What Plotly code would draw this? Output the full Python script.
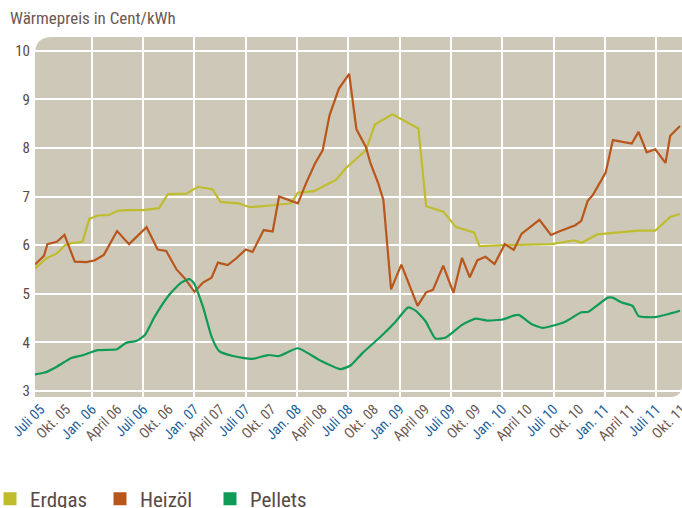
import plotly.graph_objects as go

# x = months since July 2005
erdgas_x = [-0.65, 0.7, 1.9, 2.85, 3.6, 4.9, 5.7, 6.7, 8.0, 9.1, 10.4, 12.0, 13.85, 14.9, 17.05, 18.4,
            20.1, 21.05, 23.1, 24.5, 27.2, 29.3, 30.1, 32.0, 33.2, 34.55, 35.7, 37.3, 38.05, 39.1, 41.15,
            44.2, 45.1, 47.1, 48.6, 50.7, 51.35, 54.3, 59.8, 62.4, 63.3, 65.1, 69.2, 69.9, 71.9, 73.65, 74.8]
erdgas_y = [5.52, 5.73, 5.83, 6.00, 6.04, 6.07, 6.54, 6.61, 6.62, 6.71, 6.72, 6.72, 6.76, 7.05, 7.06, 7.20,
            7.15, 6.89, 6.86, 6.78, 6.82, 6.86, 7.08, 7.11, 7.22, 7.34, 7.58, 7.82, 7.95, 8.48, 8.69,
            8.40, 6.80, 6.69, 6.37, 6.26, 5.98, 6.00, 6.02, 6.10, 6.05, 6.22, 6.28, 6.30, 6.30, 6.58, 6.64]

heizoel_x = [-0.65, 0.4, 0.8, 1.9, 2.8, 4.0, 5.4, 6.35, 7.4, 8.95, 10.35, 11.4, 12.4, 13.7, 14.7, 15.9,
             16.85, 18.0, 19.0, 20.0, 20.75, 21.9, 22.9, 24.0, 24.8, 26.1, 27.15, 27.9, 30.1, 31.05, 32.1,
             33.0, 33.8, 34.9, 36.1, 36.95, 38.05, 38.6, 39.5, 40.1, 41.0, 42.2, 44.1, 45.1, 45.9, 47.1,
             48.3, 49.3, 50.2, 51.1, 52.05, 53.1, 54.3, 55.35, 56.25, 58.35, 59.7, 60.8, 62.55, 63.25,
             64.0, 64.6, 66.1, 66.95, 69.15, 69.95, 70.9, 71.9, 73.1, 73.65, 74.8]
heizoel_y = [5.60, 5.78, 6.02, 6.07, 6.21, 5.66, 5.65, 5.69, 5.80, 6.29, 6.02, 6.19, 6.37, 5.91, 5.88, 5.50,
             5.32, 5.04, 5.23, 5.33, 5.64, 5.59, 5.73, 5.91, 5.86, 6.31, 6.28, 7.00, 6.86, 7.27, 7.68,
             7.95, 8.67, 9.22, 9.52, 8.38, 8.02, 7.68, 7.27, 6.93, 5.09, 5.60, 4.75, 5.03, 5.08, 5.58,
             5.02, 5.74, 5.34, 5.69, 5.76, 5.61, 6.02, 5.90, 6.23, 6.52, 6.21, 6.29, 6.41, 6.50,
             6.91, 7.03, 7.49, 8.16, 8.09, 8.33, 7.91, 7.97, 7.69, 8.25, 8.45]

pellets_x = [-0.65, 0.5, 1.9, 3.6, 4.8, 6.7, 8.95, 10.0, 11.2, 12.2, 13.35, 15.1, 16.45, 17.4, 17.9, 19.0,
             20.0, 20.9, 22.5, 24.8, 26.6, 27.9, 30.1, 32.6, 35.1, 36.3, 37.65, 39.8, 41.55, 43.0, 43.9,
             45.05, 46.2, 47.4, 49.3, 50.9, 52.2, 54.0, 55.55, 56.0, 57.4, 58.75, 61.3, 63.25, 64.1,
             66.35, 66.9, 68.0, 69.25, 69.95, 71.9, 74.8]
pellets_y = [3.34, 3.38, 3.50, 3.68, 3.73, 3.84, 3.86, 3.99, 4.03, 4.15, 4.53, 4.99, 5.23, 5.30, 5.23, 4.73,
             4.12, 3.82, 3.72, 3.66, 3.74, 3.72, 3.88, 3.64, 3.45, 3.53, 3.78, 4.12, 4.43, 4.72, 4.65,
             4.43, 4.08, 4.10, 4.36, 4.49, 4.45, 4.47, 4.56, 4.56, 4.38, 4.30, 4.42, 4.62, 4.63,
             4.92, 4.92, 4.82, 4.75, 4.54, 4.52, 4.65]

tick_months = list(range(0, 76, 3))
tick_labels = ["Juli 05", "Okt. 05", "Jan. 06", "April 06", "Juli 06", "Okt. 06", "Jan. 07", "April 07",
               "Juli 07", "Okt. 07", "Jan. 08", "April 08", "Juli 08", "Okt. 08", "Jan. 09", "April 09",
               "Juli 09", "Okt. 09", "Jan. 10", "April 10", "Juli 10", "Okt. 10", "Jan. 11", "April 11",
               "Juli 11", "Okt. 11"]
grid_months = list(range(6, 76, 6))
y_ticks = [3, 4, 5, 6, 7, 8, 9, 10]

C_ERD = "#bfbd2e"
C_HEI = "#b9561c"
C_PEL = "#0f9a55"
BG = "#cec8b9"
BLUE = "#1d5f9c"
BROWN = "#6c5852"
DARK = "#5a4a45"
FONT = "Liberation Sans Narrow, Roboto Condensed, DejaVu Sans Condensed, Arial Narrow, sans-serif"

ticktext = []
for t in tick_labels:
    col = BLUE if (t.startswith("Juli") or t.startswith("Jan")) else BROWN
    ticktext.append(f'<span style="color:{col}">{t}</span>')

fig = go.Figure()
fig.add_trace(go.Scatter(x=erdgas_x, y=erdgas_y, mode="lines", line=dict(color=C_ERD, width=2.2),
                         showlegend=False))
fig.add_trace(go.Scatter(x=heizoel_x, y=heizoel_y, mode="lines", line=dict(color=C_HEI, width=2.2),
                         showlegend=False))
fig.add_trace(go.Scatter(x=pellets_x, y=pellets_y, mode="lines",
                         line=dict(color=C_PEL, width=2.2, shape="spline", smoothing=0.5),
                         showlegend=False))
for name, col in [("Erdgas", C_ERD), ("Heizöl", C_HEI), ("Pellets", C_PEL)]:
    fig.add_trace(go.Scatter(x=[None], y=[None], mode="markers", name=name,
                             marker=dict(symbol="square", size=13, color=col)))

W_PLOT, H_PLOT = 647, 360
rx1, ry1 = 17 / W_PLOT, 17 / H_PLOT
rx2, ry2 = 12 / W_PLOT, 12 / H_PLOT
path = (f"M 0,0 L 0,{1 - ry1} Q 0,1 {rx1},1 L 1,1 L 1,{ry2} Q 1,0 {1 - rx2},0 Z")
fig.add_shape(type="path", path=path, xref="paper", yref="paper", fillcolor=BG,
              line=dict(width=0), layer="below")

fig.add_annotation(text="Wärmepreis in Cent/kWh", xref="paper", yref="paper",
                   x=(8 - 35) / W_PLOT, y=(397 - 18) / H_PLOT, xanchor="left", yanchor="middle",
                   showarrow=False, font=dict(size=17, color=BROWN, family=FONT))

fig.update_layout(
    width=682, height=508,
    margin=dict(l=35, r=0, t=37, b=111, autoexpand=False),
    paper_bgcolor="white", plot_bgcolor="rgba(0,0,0,0)",
    font=dict(family=FONT, color=BROWN),
    xaxis=dict(range=[-0.65, 75.03], tickvals=tick_months, ticktext=ticktext, tickangle=-45,
               showgrid=False, zeroline=False, showline=False, ticks="", automargin=False,
               ticklabeloverflow="allow",
               tickfont=dict(size=14.5, family=FONT),
               minor=dict(tickvals=grid_months, showgrid=True, gridcolor="white", gridwidth=2, ticks=""),
               fixedrange=True),
    yaxis=dict(range=[2.877, 10.28], tickvals=y_ticks, showgrid=True, gridcolor="white", gridwidth=2,
               zeroline=False, showline=False, ticks="", automargin=False, ticklabelstandoff=4,
               tickfont=dict(size=15, color=DARK, family=FONT), fixedrange=True),
    legend=dict(orientation="h", x=(-10 - 35) / W_PLOT, xanchor="left", xref="paper",
                y=9 / 508, yanchor="middle", yref="container",
                font=dict(size=21, color=DARK, family=FONT), itemwidth=30,
                entrywidth=65, entrywidthmode="pixels", bgcolor="rgba(0,0,0,0)"),
)

fig.write_html("out.html", config={"displayModeBar": False},
               post_script="document.body.style.margin='0px';document.body.style.overflow='hidden';")
